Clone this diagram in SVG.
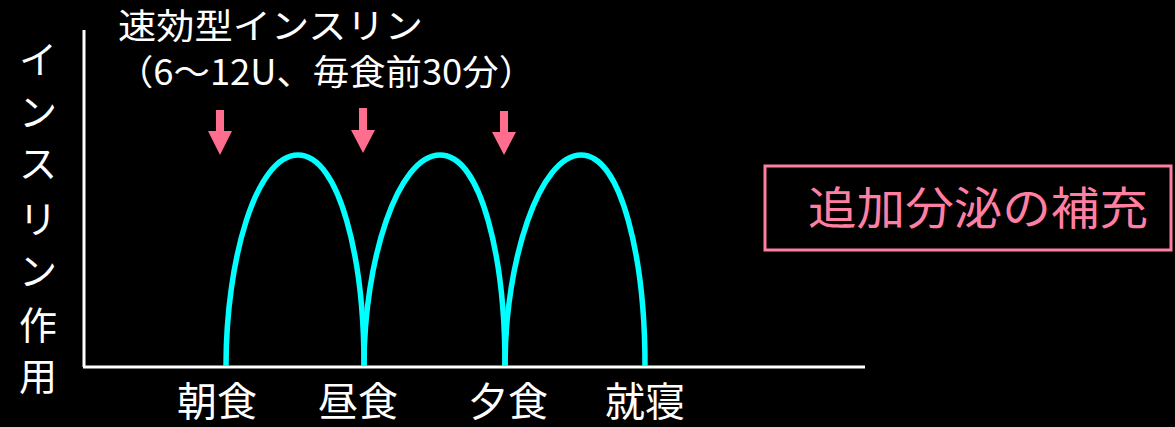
<svg xmlns="http://www.w3.org/2000/svg" width="1175" height="427" viewBox="0 0 1175 427">
<style>
.t{font-family:"Noto Sans CJK JP","Noto Sans",sans-serif;fill:#ffffff}
.ax{stroke:#ffffff;stroke-width:3;fill:none}
.curve{stroke:#00ffff;stroke-width:5.5;fill:none}
.arr{fill:#ff6e8e}
.ylab{font-size:38px;text-anchor:middle}
.xlab{font-size:40px;text-anchor:middle}
</style>
<rect x="0" y="0" width="1175" height="427" fill="#000000"/>
<g id="title">
<text class="t" x="118" y="39" font-size="35" textLength="305" lengthAdjust="spacingAndGlyphs">速効型インスリン</text>
<text class="t" x="117" y="85" font-size="35" textLength="418" lengthAdjust="spacingAndGlyphs">（6～12U、毎食前30分）</text>
</g>
<g id="axes">
<line class="ax" x1="84" y1="30" x2="84" y2="367"/>
<line class="ax" x1="83" y1="367" x2="865" y2="367"/>
</g>
<g id="ylabel" class="t ylab">
<text x="38" y="73">イ</text>
<text x="38" y="126">ン</text>
<text x="38" y="177">ス</text>
<text x="38" y="233">リ</text>
<text x="38" y="285">ン</text>
<text x="38" y="339">作</text>
<text x="38" y="390">用</text>
</g>
<g id="connectors">
<path class="curve" d="M226,366 C226,260 256,155 298,155 C340,155 364,260 364,366"/>
<path class="curve" d="M364,366 C364,260 398,155 440,155 C482,155 505,260 505,366"/>
<path class="curve" d="M505,366 C505,260 540,155 581,155 C622,155 645,260 645,366"/>
</g>
<g id="arrows" class="arr">
<path d="M216,110 H224 V131 H232 L220,155 L208,131 H216 Z"/>
<path d="M359,108 H367 V130 H375 L363,153 L351,130 H359 Z"/>
<path d="M500,111 H508 V132 H516 L504,155 L492,132 H500 Z"/>
</g>
<g id="xlabels" class="t xlab">
<text x="217" y="416">朝食</text>
<text x="358" y="416">昼食</text>
<text x="508" y="416">夕食</text>
<text x="645" y="416">就寝</text>
</g>
<g id="note">
<rect x="765" y="166" width="406" height="84" fill="none" stroke="#ff7fa3" stroke-width="3"/>
<text x="978" y="225" font-size="45" text-anchor="middle" style="font-family:'Noto Sans CJK JP','Noto Sans',sans-serif;fill:#ff7fa3" textLength="340" lengthAdjust="spacingAndGlyphs">追加分泌の補充</text>
</g>
</svg>
